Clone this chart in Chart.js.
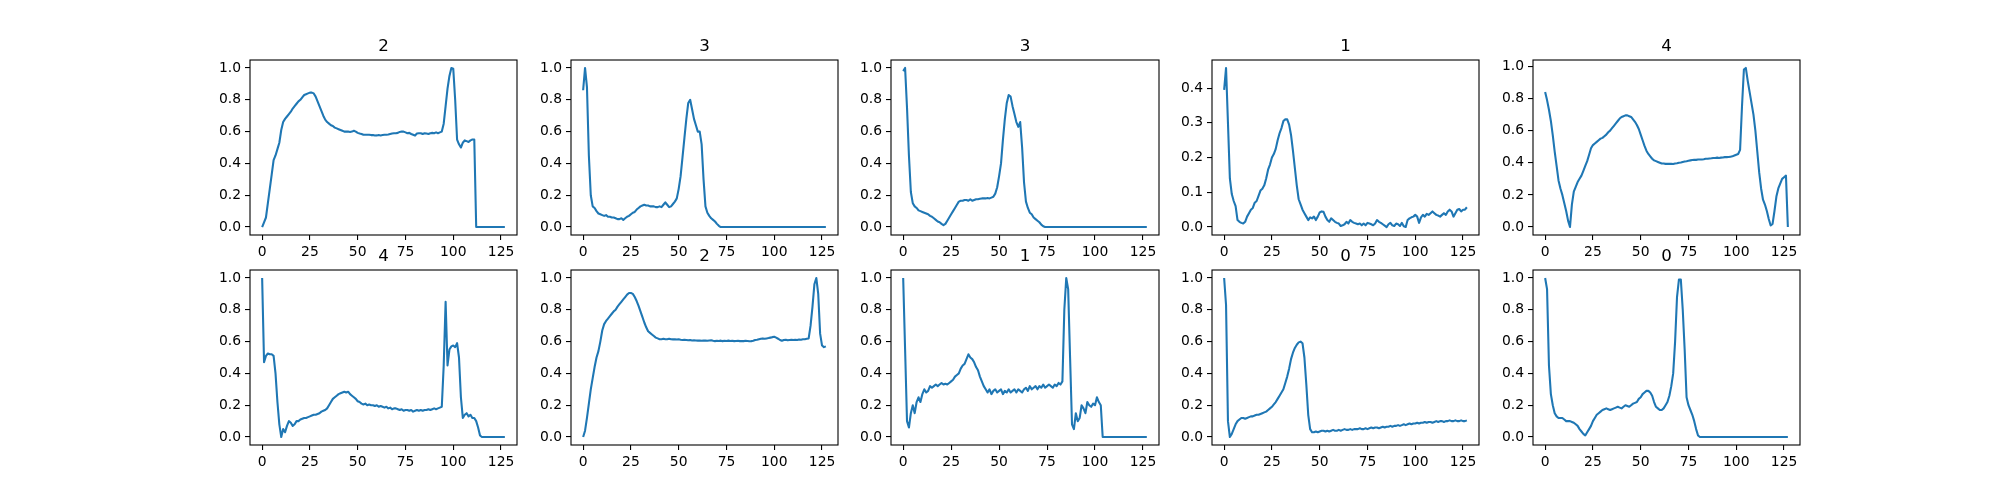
<!DOCTYPE html>
<html>
<head>
<meta charset="utf-8">
<script src="https://cdn.jsdelivr.net/npm/chart.js@4.4.1/dist/chart.umd.min.js"></script>
<style>
  body { margin: 0; background: #fff; }
  #fig { position: relative; width: 2000px; height: 500px; overflow: hidden; }
  #fig canvas { position: absolute; }
</style>
</head>
<body>
<div id="fig"></div>
<script>
/* ---------- Data ---------- */
const titles = ['2', '3', '3', '1', '4', '4', '2', '1', '0', '0'];

const beatA = [
  0.0, 0.03, 0.06, 0.15, 0.24, 0.33, 0.42, 0.45, 0.49, 0.53,
  0.61, 0.66, 0.68, 0.695, 0.71, 0.725, 0.745, 0.76, 0.775, 0.79,
  0.80, 0.815, 0.83, 0.835, 0.84, 0.845, 0.845, 0.84, 0.82, 0.79,
  0.76, 0.73, 0.70, 0.675, 0.66, 0.65, 0.64, 0.635, 0.625, 0.62,
  0.615, 0.61, 0.605, 0.60, 0.60, 0.60, 0.598, 0.60, 0.605, 0.60,
  0.592, 0.588, 0.585, 0.58, 0.58, 0.58, 0.58, 0.578, 0.578, 0.575,
  0.576, 0.578, 0.576, 0.578, 0.58, 0.58, 0.582, 0.585, 0.588, 0.59,
  0.59, 0.592, 0.598, 0.60, 0.60, 0.595, 0.59, 0.592, 0.585, 0.58,
  0.575, 0.588, 0.59, 0.59, 0.585, 0.59, 0.588, 0.585, 0.59, 0.592,
  0.59, 0.595, 0.59, 0.595, 0.60, 0.65, 0.76, 0.87, 0.95, 1.0,
  0.995, 0.80, 0.55, 0.52, 0.50, 0.53, 0.545, 0.54, 0.535, 0.545,
  0.55, 0.55, 0, 0, 0, 0, 0, 0, 0, 0,
  0, 0, 0, 0, 0, 0, 0, 0
];

const beatB = [
  0.86, 1.0, 0.88, 0.45, 0.20, 0.13, 0.12, 0.10, 0.085, 0.08,
  0.075, 0.07, 0.075, 0.065, 0.065, 0.06, 0.06, 0.055, 0.05, 0.05,
  0.055, 0.045, 0.055, 0.065, 0.07, 0.08, 0.09, 0.095, 0.11, 0.12,
  0.13, 0.135, 0.14, 0.135, 0.135, 0.13, 0.13, 0.13, 0.125, 0.125,
  0.13, 0.125, 0.14, 0.155, 0.14, 0.125, 0.13, 0.145, 0.16, 0.18,
  0.24, 0.32, 0.44, 0.56, 0.68, 0.78, 0.80, 0.74, 0.68, 0.64,
  0.60, 0.60, 0.52, 0.30, 0.13, 0.09, 0.07, 0.055, 0.045, 0.035,
  0.02, 0.008, 0, 0, 0, 0, 0, 0, 0, 0,
  0, 0, 0, 0, 0, 0, 0, 0, 0, 0,
  0, 0, 0, 0, 0, 0, 0, 0, 0, 0,
  0, 0, 0, 0, 0, 0, 0, 0, 0, 0,
  0, 0, 0, 0, 0, 0, 0, 0, 0, 0,
  0, 0, 0, 0, 0, 0, 0, 0
];

const beatC = [
  0.98, 1.0, 0.75, 0.45, 0.22, 0.15, 0.13, 0.12, 0.105, 0.10,
  0.095, 0.09, 0.085, 0.08, 0.07, 0.065, 0.055, 0.045, 0.035, 0.03,
  0.02, 0.012, 0.02, 0.04, 0.06, 0.08, 0.10, 0.12, 0.14, 0.16,
  0.165, 0.165, 0.17, 0.17, 0.165, 0.175, 0.165, 0.17, 0.175, 0.175,
  0.178, 0.18, 0.18, 0.18, 0.182, 0.18, 0.185, 0.19, 0.21, 0.25,
  0.32, 0.40, 0.55, 0.68, 0.78, 0.83, 0.82, 0.76, 0.71, 0.66,
  0.63, 0.66, 0.50, 0.28, 0.16, 0.12, 0.09, 0.08, 0.06, 0.05,
  0.04, 0.03, 0.015, 0.005, 0, 0, 0, 0, 0, 0,
  0, 0, 0, 0, 0, 0, 0, 0, 0, 0,
  0, 0, 0, 0, 0, 0, 0, 0, 0, 0,
  0, 0, 0, 0, 0, 0, 0, 0, 0, 0,
  0, 0, 0, 0, 0, 0, 0, 0, 0, 0,
  0, 0, 0, 0, 0, 0, 0, 0
];

const beatD = [
  0.395, 0.458, 0.30, 0.14, 0.095, 0.075, 0.06, 0.02, 0.015, 0.012,
  0.01, 0.015, 0.03, 0.04, 0.05, 0.055, 0.07, 0.075, 0.09, 0.105,
  0.11, 0.12, 0.14, 0.165, 0.18, 0.20, 0.21, 0.225, 0.25, 0.27,
  0.285, 0.305, 0.31, 0.31, 0.295, 0.265, 0.22, 0.17, 0.12, 0.08,
  0.065, 0.05, 0.04, 0.03, 0.02, 0.028, 0.025, 0.03, 0.02, 0.03,
  0.042, 0.045, 0.044, 0.03, 0.02, 0.015, 0.025, 0.02, 0.015, 0.012,
  0.01, 0.003, 0.005, 0.008, 0.015, 0.01, 0.02, 0.015, 0.012, 0.01,
  0.008, 0.01, 0.005, 0.01, 0.005, 0.012, 0.01, 0.008, 0.005, 0.01,
  0.02, 0.015, 0.012, 0.008, 0.004, 0.0, 0.008, 0.012, 0.005, 0.003,
  0.01, 0.008, 0.003, 0.012, 0.002, 0.0, 0.02, 0.025, 0.028, 0.03,
  0.035, 0.03, 0.012, 0.028, 0.035, 0.03, 0.038, 0.035, 0.04, 0.045,
  0.04, 0.035, 0.033, 0.03, 0.035, 0.04, 0.035, 0.045, 0.05, 0.045,
  0.03, 0.04, 0.05, 0.052, 0.045, 0.05, 0.05, 0.057
];

const beatE = [
  0.84, 0.79, 0.73, 0.66, 0.57, 0.47, 0.38, 0.29, 0.24, 0.20,
  0.15, 0.10, 0.04, 0.00, 0.14, 0.22, 0.25, 0.28, 0.30, 0.32,
  0.35, 0.38, 0.41, 0.45, 0.49, 0.51, 0.52, 0.53, 0.54, 0.55,
  0.555, 0.565, 0.575, 0.59, 0.60, 0.615, 0.63, 0.645, 0.66, 0.675,
  0.685, 0.69, 0.695, 0.695, 0.69, 0.685, 0.67, 0.655, 0.635, 0.61,
  0.575, 0.54, 0.505, 0.475, 0.455, 0.44, 0.425, 0.415, 0.41, 0.405,
  0.40, 0.395, 0.395, 0.393, 0.393, 0.393, 0.393, 0.392, 0.395, 0.397,
  0.40, 0.402, 0.405, 0.408, 0.41, 0.413, 0.415, 0.417, 0.418, 0.418,
  0.42, 0.42, 0.42, 0.422, 0.425, 0.425, 0.427, 0.428, 0.43, 0.43,
  0.432, 0.43, 0.432, 0.433, 0.435, 0.435, 0.436, 0.438, 0.44, 0.445,
  0.45, 0.455, 0.48, 0.75, 0.98, 0.99, 0.91, 0.84, 0.77, 0.70,
  0.60, 0.47, 0.34, 0.24, 0.17, 0.14, 0.10, 0.05, 0.01, 0.02,
  0.10, 0.19, 0.24, 0.27, 0.30, 0.31, 0.32, 0.0
];

const beatF = [
  1.0, 0.47, 0.51, 0.525, 0.52, 0.52, 0.51, 0.40, 0.22, 0.08,
  0.0, 0.05, 0.03, 0.07, 0.10, 0.09, 0.07, 0.08, 0.10, 0.10,
  0.11, 0.115, 0.12, 0.12, 0.125, 0.13, 0.135, 0.14, 0.14, 0.145,
  0.15, 0.16, 0.165, 0.17, 0.18, 0.20, 0.22, 0.24, 0.25, 0.26,
  0.27, 0.275, 0.28, 0.285, 0.28, 0.285, 0.27, 0.26, 0.25, 0.24,
  0.225, 0.22, 0.21, 0.205, 0.21, 0.20, 0.205, 0.20, 0.20, 0.195,
  0.20, 0.19, 0.195, 0.19, 0.185, 0.19, 0.18, 0.185, 0.175, 0.18,
  0.18, 0.175, 0.17, 0.175, 0.165, 0.17, 0.17, 0.165, 0.17, 0.16,
  0.165, 0.17, 0.165, 0.17, 0.165, 0.17, 0.17, 0.175, 0.17, 0.175,
  0.18, 0.175, 0.18, 0.185, 0.19, 0.45, 0.85, 0.45, 0.55, 0.57,
  0.575, 0.565, 0.59, 0.50, 0.25, 0.12, 0.14, 0.15, 0.13, 0.14,
  0.12, 0.12, 0.10, 0.06, 0.01, 0, 0, 0, 0, 0,
  0, 0, 0, 0, 0, 0, 0, 0
];

const beatG = [
  0.0, 0.04, 0.12, 0.21, 0.30, 0.37, 0.44, 0.50, 0.54, 0.60,
  0.67, 0.71, 0.73, 0.745, 0.76, 0.775, 0.79, 0.80, 0.82, 0.835,
  0.85, 0.865, 0.88, 0.895, 0.905, 0.905, 0.90, 0.88, 0.855, 0.825,
  0.79, 0.755, 0.72, 0.69, 0.665, 0.655, 0.645, 0.635, 0.625, 0.62,
  0.615, 0.615, 0.618, 0.615, 0.615, 0.618, 0.615, 0.614, 0.615, 0.613,
  0.615, 0.612, 0.61, 0.612, 0.61, 0.608, 0.61, 0.607, 0.608, 0.607,
  0.606, 0.607, 0.605, 0.607, 0.606, 0.605, 0.607, 0.608, 0.605, 0.603,
  0.605, 0.604, 0.606, 0.603, 0.605, 0.604, 0.606, 0.604, 0.605, 0.603,
  0.604, 0.605, 0.603, 0.604, 0.603, 0.605, 0.604, 0.602, 0.603, 0.605,
  0.61, 0.612, 0.615, 0.618, 0.62, 0.618, 0.62, 0.622, 0.625, 0.628,
  0.63, 0.625, 0.618, 0.61, 0.605, 0.61, 0.612, 0.608, 0.61, 0.612,
  0.61, 0.612, 0.61, 0.613, 0.612, 0.615, 0.615, 0.618, 0.62, 0.70,
  0.82, 0.96, 1.0, 0.90, 0.65, 0.575, 0.565, 0.57
];

const beatH = [
  1.0, 0.55, 0.10, 0.06, 0.15, 0.20, 0.15, 0.22, 0.25, 0.22,
  0.27, 0.30, 0.28, 0.29, 0.32, 0.31, 0.32, 0.33, 0.32, 0.33,
  0.34, 0.33, 0.335, 0.33, 0.34, 0.35, 0.36, 0.38, 0.39, 0.40,
  0.43, 0.45, 0.46, 0.49, 0.52, 0.50, 0.49, 0.47, 0.44, 0.42,
  0.38, 0.35, 0.32, 0.30, 0.28, 0.30, 0.27, 0.29, 0.30, 0.28,
  0.29, 0.30, 0.27, 0.29, 0.28, 0.30, 0.28, 0.29, 0.30, 0.28,
  0.30, 0.29, 0.28, 0.30, 0.31, 0.29, 0.32, 0.30, 0.31, 0.32,
  0.30, 0.32, 0.31, 0.33, 0.31, 0.32, 0.33, 0.32, 0.31, 0.33,
  0.32, 0.34, 0.33, 0.35, 0.80, 1.0, 0.93, 0.50, 0.08, 0.05,
  0.15, 0.10, 0.12, 0.20, 0.18, 0.15, 0.22, 0.20, 0.19, 0.21,
  0.20, 0.25, 0.22, 0.20, 0.0, 0, 0, 0, 0, 0,
  0, 0, 0, 0, 0, 0, 0, 0, 0, 0,
  0, 0, 0, 0, 0, 0, 0, 0
];

const beatI = [
  1.0, 0.83, 0.10, 0.0, 0.02, 0.05, 0.08, 0.10, 0.11, 0.12,
  0.12, 0.115, 0.12, 0.125, 0.13, 0.13, 0.135, 0.14, 0.14, 0.145,
  0.15, 0.155, 0.16, 0.17, 0.18, 0.19, 0.205, 0.22, 0.24, 0.26,
  0.28, 0.30, 0.34, 0.38, 0.43, 0.49, 0.53, 0.56, 0.58, 0.595,
  0.60, 0.59, 0.50, 0.33, 0.14, 0.05, 0.03, 0.03, 0.035, 0.03,
  0.035, 0.04, 0.04, 0.035, 0.04, 0.035, 0.04, 0.045, 0.04, 0.04,
  0.045, 0.04, 0.045, 0.05, 0.045, 0.045, 0.05, 0.045, 0.05, 0.05,
  0.05, 0.055, 0.05, 0.05, 0.055, 0.05, 0.055, 0.06, 0.055, 0.06,
  0.06, 0.055, 0.06, 0.065, 0.06, 0.065, 0.065, 0.07, 0.065, 0.07,
  0.07, 0.075, 0.07, 0.075, 0.08, 0.075, 0.08, 0.085, 0.08, 0.085,
  0.085, 0.09, 0.085, 0.09, 0.09, 0.095, 0.09, 0.095, 0.095, 0.09,
  0.095, 0.1, 0.095, 0.1, 0.1, 0.095, 0.1, 0.1, 0.105, 0.1,
  0.1, 0.105, 0.1, 0.1, 0.105, 0.1, 0.1, 0.105
];

const beatJ = [
  1.0, 0.93, 0.45, 0.27, 0.20, 0.15, 0.13, 0.12, 0.12, 0.12,
  0.11, 0.10, 0.10, 0.10, 0.095, 0.09, 0.08, 0.07, 0.05, 0.035,
  0.02, 0.01, 0.03, 0.05, 0.07, 0.10, 0.12, 0.14, 0.15, 0.16,
  0.17, 0.175, 0.18, 0.175, 0.17, 0.175, 0.18, 0.185, 0.19, 0.185,
  0.18, 0.19, 0.20, 0.195, 0.19, 0.20, 0.21, 0.215, 0.22, 0.24,
  0.25, 0.27, 0.28, 0.29, 0.29, 0.28, 0.26, 0.22, 0.19, 0.18,
  0.17, 0.17, 0.18, 0.20, 0.22, 0.26, 0.32, 0.40, 0.60, 0.88,
  0.99, 0.99, 0.80, 0.55, 0.25, 0.20, 0.17, 0.14, 0.10, 0.05,
  0.01, 0, 0, 0, 0, 0, 0, 0, 0, 0,
  0, 0, 0, 0, 0, 0, 0, 0, 0, 0,
  0, 0, 0, 0, 0, 0, 0, 0, 0, 0,
  0, 0, 0, 0, 0, 0, 0, 0, 0, 0,
  0, 0, 0, 0, 0, 0, 0, 0
];

const beats = [beatA, beatB, beatC, beatD, beatE, beatF, beatG, beatH, beatI, beatJ];

const xTicks = [0, 25, 50, 75, 100, 125];
const yTicksUnit = [0, 0.2, 0.4, 0.6, 0.8, 1.0];
const yTicksSmall = [0, 0.1, 0.2, 0.3, 0.4];
const yTickSets = [yTicksUnit, yTicksUnit, yTicksUnit, yTicksSmall, yTicksUnit,
                   yTicksUnit, yTicksUnit, yTicksUnit, yTicksUnit, yTicksUnit];

/* ---------- Layout (matplotlib subplot grid, 2 x 5) ---------- */
const FIG_W = 2000, FIG_H = 500;
const gridL = 0.125 * FIG_W, gridR = 0.9 * FIG_W;
const gridT = (1 - 0.88) * FIG_H, gridB = (1 - 0.11) * FIG_H;
const axW = (gridR - gridL) / (5 + 4 * 0.2);
const axH = (gridB - gridT) / (2 + 0.2);
const PAD_L = 60, PAD_R = 20, PAD_T = 40, PAD_B = 30;

const LINE_COLOR = '#1f77b4';
const FONT = 'DejaVu Sans';

// outline of the whole axes box, like matplotlib spines
const boxPlugin = {
  id: 'axesBox',
  afterDatasetsDraw(chart) {
    const a = chart.chartArea;
    const ctx = chart.ctx;
    ctx.save();
    ctx.strokeStyle = '#000';
    ctx.lineWidth = 1.1;
    ctx.strokeRect(a.left, a.top, a.right - a.left, a.bottom - a.top);
    ctx.restore();
  }
};

function makePanel(i) {
  const col = i % 5, row = Math.floor(i / 5);
  const left = Math.round(gridL + col * axW * 1.2);
  const right = Math.round(gridL + col * axW * 1.2 + axW);
  const top = Math.round(gridT + row * axH * 1.2);
  const bottom = Math.round(gridT + row * axH * 1.2 + axH);

  const canvas = document.createElement('canvas');
  canvas.width = right - left + PAD_L + PAD_R;
  canvas.height = bottom - top + PAD_T + PAD_B;
  canvas.style.left = (left - PAD_L) + 'px';
  canvas.style.top = (top - PAD_T) + 'px';
  canvas.style.width = canvas.width + 'px';
  canvas.style.height = canvas.height + 'px';
  document.getElementById('fig').appendChild(canvas);

  const values = beats[i];
  const n = values.length;
  const yMin = Math.min(...values), yMax = Math.max(...values);
  const yPad = 0.05 * (yMax - yMin);
  const yTicks = yTickSets[i];

  const tickFont = { family: FONT, size: 13.89 };

  new Chart(canvas, {
    type: 'line',
    data: {
      datasets: [{
        data: values.map((v, k) => ({ x: k, y: v })),
        borderColor: LINE_COLOR,
        borderWidth: 2.08,
        borderJoinStyle: 'round',
        pointRadius: 0,
        tension: 0,
        fill: false,
      }],
    },
    options: {
      responsive: false,
      animation: false,
      devicePixelRatio: 1,
      layout: { padding: { left: 0, right: PAD_R, top: 0, bottom: 0 } },
      plugins: {
        legend: { display: false },
        tooltip: { enabled: false },
        title: {
          display: true,
          text: titles[i],
          fullSize: false,
          color: '#000',
          font: { family: FONT, size: 16.67, weight: 'normal', lineHeight: 1.2 },
          padding: { top: 17, bottom: 3 },
        },
      },
      scales: {
        x: {
          type: 'linear',
          min: -0.05 * (n - 1),
          max: (n - 1) * 1.05,
          border: { display: false },
          grid: { display: true, drawOnChartArea: false, drawTicks: true, tickLength: 5, color: '#000', lineWidth: 1.1 },
          ticks: { font: tickFont, color: '#000', padding: 4, maxRotation: 0, autoSkip: false, callback: v => String(v) },
          afterBuildTicks(scale) { scale.ticks = xTicks.map(v => ({ value: v })); },
          afterFit(scale) { scale.height = PAD_B; scale.paddingLeft = 0; scale.paddingRight = 0; },
        },
        y: {
          type: 'linear',
          min: yMin - yPad,
          max: yMax + yPad,
          border: { display: false },
          grid: { display: true, drawOnChartArea: false, drawTicks: true, tickLength: 5, color: '#000', lineWidth: 1.1 },
          ticks: { font: tickFont, color: '#000', padding: 4, autoSkip: false, callback: v => v.toFixed(1) },
          afterBuildTicks(scale) { scale.ticks = yTicks.map(v => ({ value: v })); },
          afterFit(scale) { scale.width = PAD_L; scale.paddingTop = 0; scale.paddingBottom = 0; },
        },
      },
    },
    plugins: [boxPlugin],
  });
}

for (let i = 0; i < beats.length; i++) makePanel(i);
</script>
</body>
</html>
